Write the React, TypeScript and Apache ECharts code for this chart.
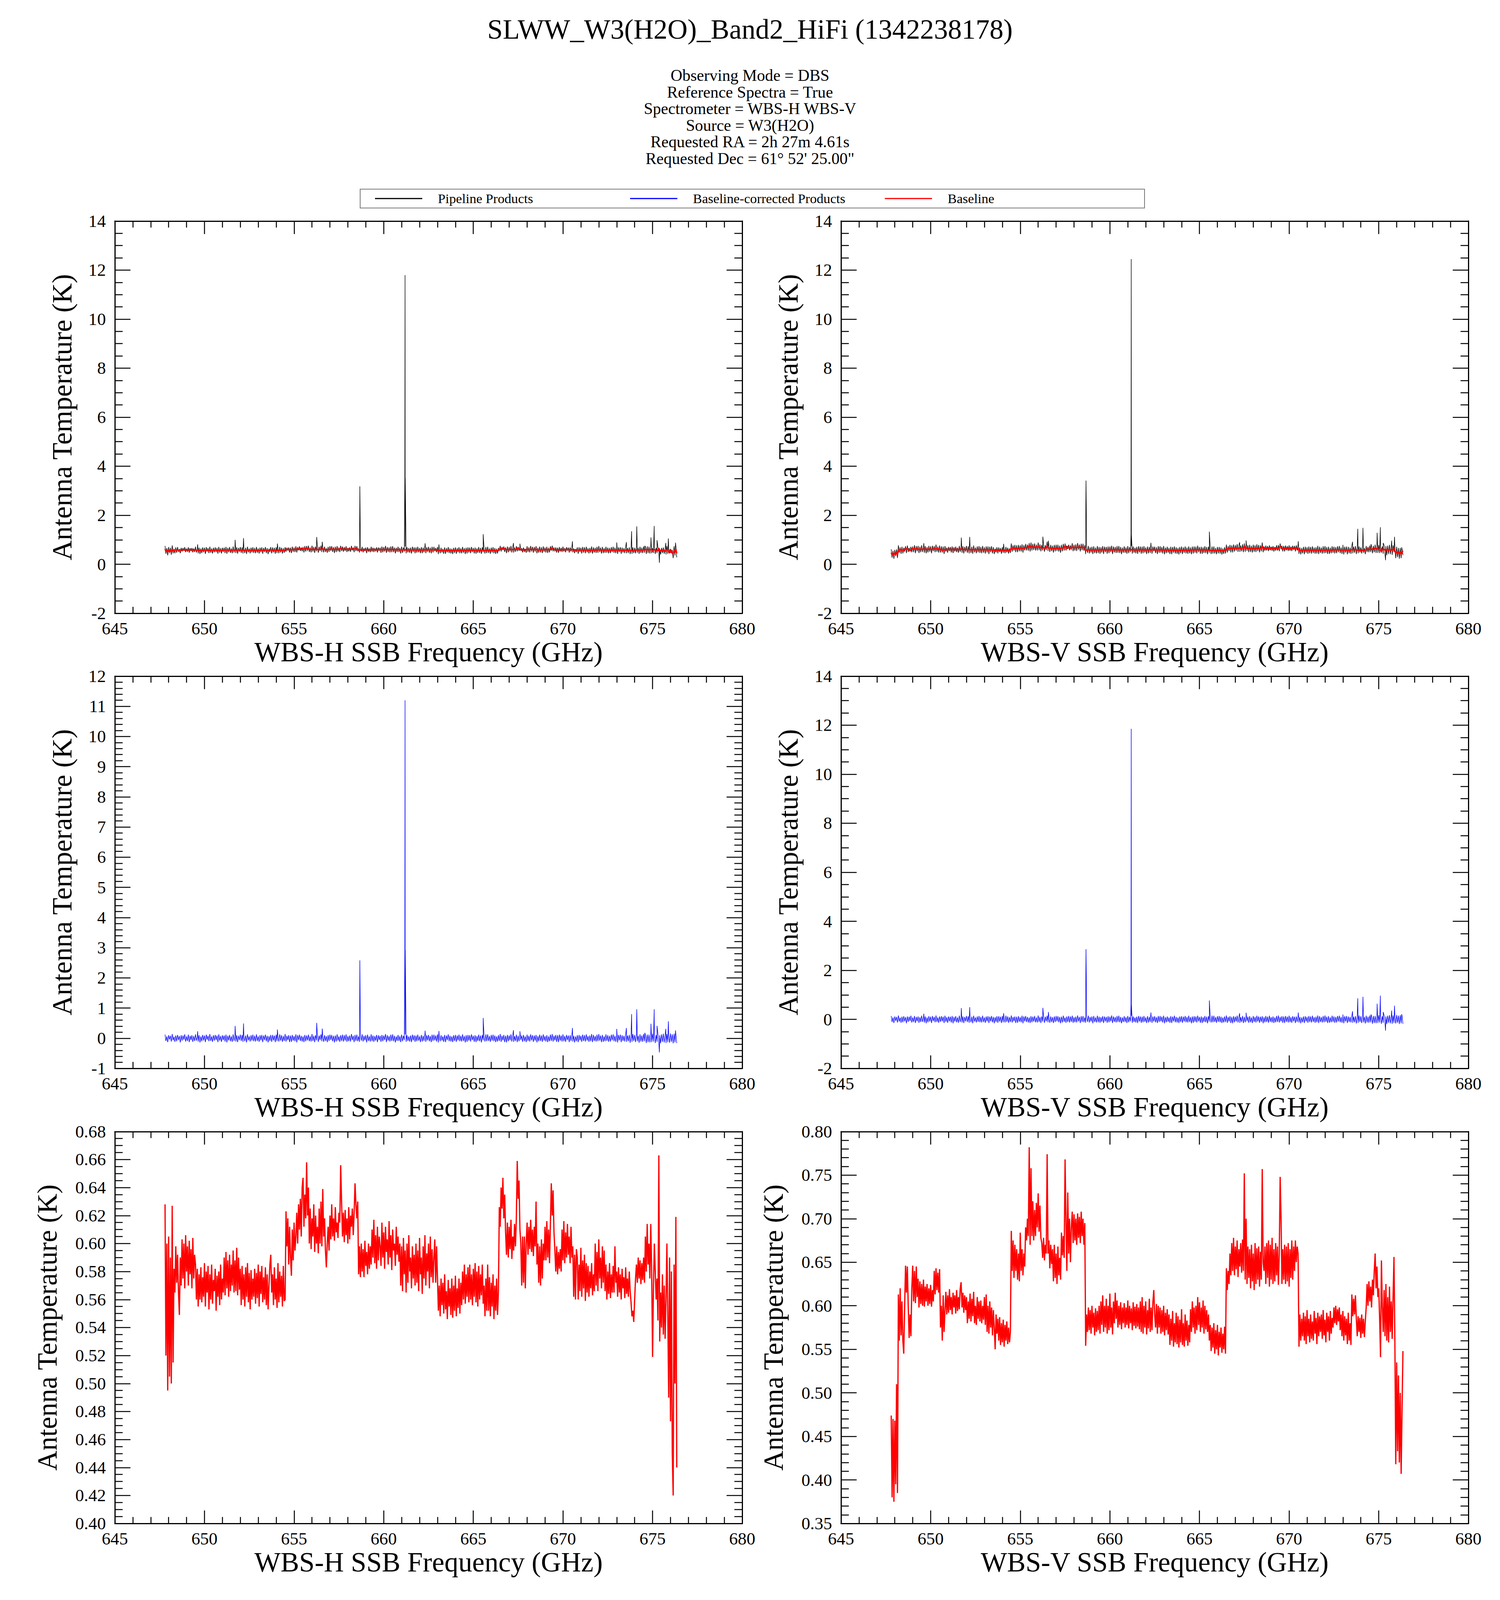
import React, { useEffect, useRef } from "react";
import * as echarts from "echarts";

const FONT = "Liberation Serif";

const TITLE = "SLWW_W3(H2O)_Band2_HiFi (1342238178)";
const SUBTITLE_LINES = [
  "Observing Mode = DBS",
  "Reference Spectra = True",
  "Spectrometer = WBS-H WBS-V",
  "Source = W3(H2O)",
  "Requested RA = 2h 27m 4.61s",
  "Requested Dec = 61\u00b0 52' 25.00\"",
];
const LEGEND_NAMES = ["Pipeline Products", "Baseline-corrected Products", "Baseline"];
const X_NAMES = ["WBS-H SSB Frequency (GHz)", "WBS-V SSB Frequency (GHz)"];
const Y_NAME = "Antenna Temperature (K)";

// spectral grid: first channel and channel step (GHz)
const FREQ_START = 647.8;
const FREQ_STEP = 0.05;

// Baseline, WBS-H, in mK, one value per 0.05 GHz
const H_BASELINE_MK = [
  628, 520, 600, 495, 605, 505, 590, 500, 627, 515, 582, 565, 598, 572, 592, 565, 549, 590, 570, 603,
  575, 600, 568, 606, 580, 598, 570, 602, 578, 596, 568, 604, 575, 592, 585, 560, 582, 555, 578, 560,
  583, 558, 576, 562, 586, 555, 580, 565, 584, 553, 578, 560, 585, 557, 574, 566, 582, 552, 577, 562,
  580, 556, 585, 560, 575, 565, 590, 563, 594, 568, 588, 562, 592, 566, 585, 570, 595, 565, 588, 566,
  597, 563, 590, 567, 582, 556, 584, 560, 578, 555, 583, 562, 586, 558, 579, 553, 581, 560, 575, 562,
  582, 557, 579, 561, 585, 555, 580, 564, 584, 558, 576, 560, 583, 556, 578, 553, 570, 585, 592, 565,
  578, 556, 583, 560, 575, 554, 586, 558, 580, 562, 577, 555, 584, 559, 560, 623, 598, 618, 585, 612,
  590, 577, 610, 588, 615, 595, 605, 622, 600, 628, 610, 632, 605, 640, 647, 612, 635, 618, 658, 620,
  640, 600, 625, 596, 618, 605, 628, 594, 620, 600, 612, 593, 625, 600, 630, 598, 639, 605, 618, 595,
  583, 600, 612, 595, 620, 603, 628, 605, 618, 602, 626, 608, 615, 604, 622, 615, 656, 630, 605, 622,
  601, 624, 606, 618, 600, 626, 603, 620, 612, 625, 606, 622, 643, 628, 618, 630, 578, 598, 576, 600,
  580, 596, 576, 602, 584, 594, 578, 600, 582, 598, 585, 610, 590, 617, 586, 606, 582, 612, 588, 605,
  598, 584, 615, 590, 608, 582, 612, 594, 603, 585, 616, 590, 606, 581, 610, 595, 600, 584, 612, 592,
  605, 587, 600, 570, 598, 566, 604, 578, 595, 565, 600, 572, 606, 580, 590, 568, 598, 575, 592, 570,
  600, 572, 595, 566, 604, 578, 590, 564, 598, 575, 606, 570, 593, 580, 600, 568, 605, 576, 596, 572,
  590, 603, 572, 598, 575, 552, 570, 548, 575, 556, 572, 550, 578, 553, 566, 546, 574, 555, 568, 549,
  575, 547, 570, 552, 577, 548, 568, 554, 575, 550, 572, 556, 580, 560, 585, 557, 578, 562, 583, 558,
  585, 560, 578, 556, 582, 562, 586, 558, 580, 555, 584, 560, 578, 563, 585, 557, 570, 548, 575, 552,
  585, 552, 576, 548, 572, 555, 578, 546, 570, 552, 575, 549, 566, 626, 612, 640, 625, 647, 618, 635,
  608, 592, 615, 590, 612, 596, 617, 589, 605, 595, 614, 598, 618, 659, 632, 645, 610, 600, 570, 605,
  572, 605, 568, 600, 615, 592, 612, 596, 617, 594, 610, 591, 612, 598, 630, 585, 600, 572, 598, 570,
  603, 575, 600, 588, 612, 588, 616, 590, 610, 586, 614, 643, 620, 638, 608, 595, 580, 598, 578, 594,
  582, 596, 580, 610, 588, 616, 586, 608, 590, 614, 592, 605, 586, 612, 590, 598, 562, 592, 560, 596,
  590, 560, 585, 566, 597, 562, 588, 568, 592, 559, 586, 565, 584, 562, 580, 568, 586, 563, 578, 566,
  600, 570, 594, 566, 603, 575, 590, 568, 598, 572, 595, 566, 585, 560, 580, 564, 586, 561, 578, 565,
  584, 565, 598, 572, 580, 562, 583, 565, 578, 560, 582, 568, 576, 561, 583, 564, 575, 562, 580, 566,
  558, 548, 552, 544, 560, 575, 585, 572, 590, 575, 588, 571, 586, 574, 590, 572, 605, 580, 614, 585,
  600, 575, 614, 580, 519, 570, 600, 580, 560, 575, 545, 663, 530, 565, 540, 578, 535, 570, 532, 560,
  600, 550, 490, 590, 473, 580, 450, 420, 585, 500, 619, 440,
];

// Baseline, WBS-V, in mK, one value per 0.05 GHz
const V_BASELINE_MK = [
  474, 380, 470, 375, 468, 395, 510, 385, 613, 560, 620, 566, 605, 560, 545, 600, 646, 615, 645, 600,
  563, 590, 565, 620, 646, 605, 640, 603, 645, 610, 631, 598, 628, 602, 625, 600, 630, 599, 622, 605,
  625, 600, 620, 602, 624, 599, 618, 605, 640, 613, 643, 618, 638, 615, 642, 575, 600, 560, 612, 570,
  595, 616, 590, 612, 592, 619, 595, 610, 590, 615, 598, 612, 591, 618, 594, 610, 596, 620, 627, 598,
  615, 592, 612, 595, 610, 580, 605, 585, 614, 582, 608, 588, 616, 580, 600, 578, 610, 585, 605, 582,
  606, 580, 600, 584, 610, 578, 613, 570, 600, 568, 605, 575, 598, 566, 595, 575, 550, 590, 568, 585,
  560, 587, 555, 580, 558, 584, 553, 578, 560, 582, 556, 575, 558, 570, 686, 640, 675, 632, 670, 640,
  665, 630, 660, 628, 684, 640, 665, 635, 660, 645, 690, 675, 700, 680, 782, 670, 758, 680, 720, 675,
  710, 680, 718, 690, 729, 685, 715, 678, 672, 655, 678, 652, 670, 660, 774, 660, 675, 643, 670, 648,
  665, 628, 670, 632, 660, 625, 668, 635, 655, 630, 684, 658, 680, 655, 768, 700, 640, 730, 660, 700,
  650, 690, 708, 672, 705, 675, 700, 670, 706, 678, 702, 672, 708, 680, 700, 670, 695, 554, 590, 570,
  598, 572, 595, 568, 600, 575, 592, 566, 597, 570, 594, 572, 600, 568, 605, 578, 612, 570, 600, 575,
  608, 568, 600, 572, 614, 575, 598, 567, 605, 580, 615, 585, 606, 575, 600, 578, 604, 573, 598, 580,
  603, 575, 598, 578, 606, 574, 600, 580, 597, 572, 604, 577, 599, 574, 602, 576, 598, 573, 605, 570,
  610, 568, 600, 575, 605, 567, 595, 574, 608, 570, 598, 572, 604, 618, 590, 575, 602, 568, 600, 575,
  598, 568, 595, 570, 600, 566, 592, 572, 596, 567, 590, 555, 585, 560, 594, 553, 580, 558, 592, 556,
  588, 552, 584, 558, 596, 555, 580, 553, 590, 560, 583, 554, 578, 558, 596, 570, 605, 575, 598, 568,
  600, 572, 610, 578, 604, 570, 598, 575, 606, 568, 600, 573, 595, 570, 590, 560, 578, 548, 575, 552,
  580, 545, 572, 550, 578, 543, 570, 552, 575, 546, 568, 550, 576, 545, 643, 618, 640, 625, 660, 635,
  672, 640, 678, 635, 668, 642, 675, 633, 665, 645, 672, 638, 676, 640, 752, 630, 700, 625, 668, 632,
  665, 620, 670, 628, 660, 618, 672, 625, 666, 630, 668, 622, 662, 630, 757, 650, 640, 668, 625, 672,
  632, 675, 622, 670, 630, 678, 625, 665, 628, 672, 635, 668, 624, 660, 748, 700, 625, 665, 630, 670,
  625, 668, 628, 672, 622, 665, 632, 675, 630, 668, 640, 675, 650, 668, 660, 553, 590, 560, 585, 565,
  592, 560, 588, 556, 595, 565, 585, 558, 590, 562, 582, 560, 594, 568, 586, 556, 592, 565, 588, 570,
  590, 562, 595, 566, 584, 558, 592, 570, 588, 560, 594, 568, 586, 575, 598, 580, 600, 578, 596, 582,
  598, 572, 590, 565, 594, 560, 588, 566, 585, 556, 592, 560, 580, 555, 613, 588, 608, 590, 612, 585,
  565, 588, 570, 586, 563, 590, 568, 585, 564, 582, 598, 625, 600, 628, 605, 622, 598, 630, 612, 640,
  660, 620, 645, 610, 620, 585, 541, 652, 600, 570, 618, 565, 625, 560, 610, 558, 622, 570, 605, 562,
  610, 656, 560, 418, 535, 433, 520, 420, 500, 407, 480, 548,
];

// Baseline-corrected noise, WBS-H, in 0.01 K, one value per 0.05 GHz (middle-left panel)
const H_RESIDUAL_CK = [
  12, -9, 6, -13, 10, -4, 8, -11, 14, -7, 5, -12, 9, -10, 11, -6, 7, -14, 10, -8,
  9, -5, 13, -11, 6, -9, 12, -13, 8, -6, 10, -12, 7, -9, 13, -8, 5, -11, 10, -14,
  6, -10, 11, -7, 9, -13, 12, -5, 8, -10, 14, -9, 6, -12, 10, -8, 11, -6, 9, -13,
  13, -8, 7, -12, 10, -6, 9, -11, 12, -14, 8, -7, 11, -10, 6, -12, 13, -9, 7, -11,
  10, -13, 8, -6, 12, -9, 11, -12, 7, -10, 9, -14, 13, -7, 6, -11, 10, -8, 12, -10,
  8, -11, 13, -9, 6, -12, 10, -7, 11, -13, 9, -6, 12, -10, 8, -14, 7, -9, 11, -12,
  11, -7, 9, -13, 12, -10, 6, -11, 13, -8, 10, -12, 7, -9, 14, -11, 8, -6, 10, -13,
  9, -12, 11, -8, 7, -10, 13, -14, 10, -6, 12, -9, 8, -11, 6, -13, 11, -10, 9, -7,
  12, -10, 6, -11, 14, -9, 8, -13, 10, -7, 11, -12, 9, -6, 13, -10, 7, -12, 10, -9,
  7, -13, 10, -9, 12, -6, 11, -10, 8, -14, 9, -11, 13, -8, 6, -12, 10, -9, 12, -11,
  10, -8, 13, -12, 7, -10, 9, -11, 14, -6, 8, -13, 11, -9, 12, -10, 6, -12, 9, -8,
  13, -11, 8, -7, 10, -14, 12, -9, 6, -11, 13, -10, 9, -12, 7, -8, 11, -13, 10, -6,
  8, -12, 11, -10, 9, -6, 14, -13, 10, -8, 7, -11, 12, -9, 13, -10, 8, -14, 6, -9,
  11, -9, 7, -13, 12, -10, 8, -6, 13, -12, 10, -9, 6, -11, 9, -13, 12, -7, 10, -12,
  9, -10, 12, -8, 6, -13, 11, -11, 8, -9, 14, -12, 10, -7, 11, -10, 7, -13, 12, -9,
  12, -7, 9, -11, 13, -14, 7, -10, 10, -8, 6, -12, 11, -13, 9, -6, 13, -10, 8, -11,
  6, -13, 10, -9, 11, -12, 9, -7, 12, -10, 8, -11, 13, -9, 7, -14, 10, -12, 11, -8,
  10, -11, 13, -6, 8, -12, 10, -13, 7, -9, 12, -10, 9, -14, 11, -7, 6, -11, 13, -10,
  13, -9, 7, -12, 11, -8, 12, -10, 9, -13, 6, -11, 10, -9, 14, -12, 8, -7, 11, -13,
  8, -14, 11, -10, 9, -7, 13, -11, 10, -12, 7, -9, 12, -13, 8, -10, 11, -6, 9, -12,
  11, -10, 6, -13, 12, -9, 8, -11, 13, -7, 10, -12, 9, -8, 11, -14, 7, -10, 12, -9,
  9, -12, 13, -8, 7, -11, 10, -13, 6, -10, 12, -9, 14, -11, 8, -7, 11, -12, 10, -13,
  12, -8, 9, -11, 13, -10, 7, -12, 11, -6, 9, -13, 10, -9, 12, -11, 8, -14, 6, -10,
  10, -13, 11, -7, 8, -12, 12, -9, 10, -11, 13, -8, 7, -12, 9, -10, 14, -13, 11, -9,
  7, -11, 12, -10, 14, -8, 9, -13, 11, -12, 6, -10, 13, -9, 10, -12, 8, -11, 12, -7,
  13, -10, 8, -12, 9, -14, 11, -7, 12, -13, 10, -9, 8, -11, 13, -12, 9, -10, 11, -15,
  10, -12, 14, -9, 11, -13, 12, -10, 8, -15, 13, -11, 9, -12, 14, -10, 11, -16, 12, -13,
  12, -14, 10, -13, 15, -11, 13, -16, 11, -12, 14, -13, 10, -17, 13, -12, 15, -14, 11, -16,
  14, -13, 12, -15, 16, -12, 13, -17, 15, -14, 12, -16,
];

// Baseline-corrected noise, WBS-V, in 0.01 K, one value per 0.05 GHz (middle-right panel)
const V_RESIDUAL_CK = [
  14, -11, 8, -15, 12, -6, 10, -13, 16, -9, 7, -14, 11, -12, 13, -8, 9, -16, 12, -10,
  11, -7, 15, -13, 8, -11, 14, -15, 10, -8, 12, -14, 9, -11, 15, -10, 7, -13, 12, -16,
  8, -12, 13, -9, 11, -15, 14, -7, 10, -12, 16, -11, 8, -14, 12, -10, 13, -8, 11, -15,
  15, -10, 9, -14, 12, -8, 11, -13, 14, -16, 10, -9, 13, -12, 8, -14, 15, -11, 9, -13,
  12, -15, 10, -8, 14, -11, 13, -14, 9, -12, 11, -16, 15, -9, 8, -13, 12, -10, 14, -12,
  10, -13, 15, -11, 8, -14, 12, -9, 13, -15, 11, -8, 14, -12, 10, -16, 9, -11, 13, -14,
  13, -9, 11, -15, 14, -12, 8, -13, 15, -10, 12, -14, 9, -11, 16, -13, 10, -8, 12, -15,
  11, -14, 13, -10, 9, -12, 15, -16, 12, -8, 14, -11, 10, -13, 8, -15, 13, -12, 11, -9,
  14, -12, 8, -13, 16, -11, 10, -15, 12, -9, 13, -14, 11, -8, 15, -12, 9, -14, 12, -11,
  9, -15, 12, -11, 14, -8, 13, -12, 10, -16, 11, -13, 15, -10, 8, -14, 12, -11, 14, -13,
  12, -10, 15, -14, 9, -12, 11, -13, 16, -8, 10, -15, 13, -11, 14, -12, 8, -14, 11, -10,
  15, -13, 10, -9, 12, -16, 14, -11, 8, -13, 15, -12, 11, -14, 9, -10, 13, -15, 12, -8,
  10, -14, 13, -12, 11, -8, 16, -15, 12, -10, 9, -13, 14, -11, 15, -12, 10, -16, 8, -11,
  13, -11, 9, -15, 14, -12, 10, -8, 15, -14, 12, -11, 8, -13, 11, -15, 14, -9, 12, -14,
  11, -12, 14, -10, 8, -15, 13, -13, 10, -11, 16, -14, 12, -9, 13, -12, 9, -15, 14, -11,
  14, -9, 11, -13, 15, -16, 9, -12, 12, -10, 8, -14, 13, -15, 11, -8, 15, -12, 10, -13,
  8, -15, 12, -11, 13, -14, 11, -9, 14, -12, 10, -13, 15, -11, 9, -16, 12, -14, 13, -10,
  12, -13, 15, -8, 10, -14, 12, -15, 9, -11, 14, -12, 11, -16, 13, -9, 8, -13, 15, -12,
  15, -11, 9, -14, 13, -10, 14, -12, 11, -15, 8, -13, 12, -11, 16, -14, 10, -9, 13, -15,
  10, -16, 13, -12, 11, -9, 15, -13, 12, -14, 9, -11, 14, -15, 10, -12, 13, -8, 11, -14,
  13, -12, 8, -15, 14, -11, 10, -13, 15, -9, 12, -14, 11, -10, 13, -16, 9, -12, 14, -11,
  11, -14, 15, -10, 9, -13, 12, -15, 8, -12, 14, -11, 16, -13, 10, -9, 13, -14, 12, -15,
  14, -10, 11, -13, 15, -12, 9, -14, 13, -8, 11, -15, 12, -11, 14, -13, 10, -16, 8, -12,
  12, -15, 13, -9, 10, -14, 14, -11, 12, -13, 15, -10, 9, -14, 11, -12, 16, -15, 13, -11,
  9, -13, 14, -12, 16, -10, 11, -15, 13, -14, 8, -12, 15, -11, 12, -14, 10, -13, 14, -9,
  15, -12, 10, -14, 11, -16, 13, -9, 14, -15, 12, -11, 10, -13, 15, -14, 11, -12, 13, -17,
  12, -14, 16, -11, 13, -15, 14, -12, 10, -17, 15, -13, 11, -14, 16, -12, 13, -18, 14, -15,
  14, -16, 12, -15, 17, -13, 15, -18, 13, -14, 16, -15, 12, -19, 15, -14, 17, -16, 13, -18,
  16, -15, 14, -17, 18, -14, 15, -19, 17, -16, 14, -18,
];

// Spectral lines: [frequency GHz, peak above baseline K, optional shoulder K]
const H_LINES = [
  [649.62, 0.23], [651.71, 0.41], [652.18, 0.49], [654.07, 0.29],
  [656.26, 0.51], [656.57, 0.32], [658.67, 2.58], [661.19, 11.2, 2.92],
  [662.31, 0.25], [663.08, 0.24], [665.55, 0.67], [667.24, 0.27],
  [667.6, 0.23], [670.53, 0.34], [673.0, 0.31], [673.54, 0.34],
  [673.83, 0.8], [674.12, 0.96], [674.57, 0.18], [674.91, 0.48],
  [675.09, 0.96], [675.25, 0.41], [675.38, -0.47], [675.74, 0.31],
  [675.88, 0.56], [676.28, 0.26],
];
const V_LINES = [
  [649.62, 0.23], [651.71, 0.46], [652.18, 0.5], [654.07, 0.25],
  [656.26, 0.47], [656.57, 0.3], [658.67, 2.86, 1.87], [661.19, 11.85, 0.6],
  [662.29, 0.28], [665.55, 0.77], [667.24, 0.25], [667.6, 0.27],
  [670.51, 0.28], [673.0, 0.2], [673.54, 0.33], [673.83, 0.86],
  [674.12, 0.92], [674.57, 0.2], [674.91, 0.64], [675.09, 0.97],
  [675.25, 0.3], [675.38, -0.46], [675.72, 0.36], [675.88, 0.56],
  [676.28, 0.21],
];

const round3 = (v: number) => Math.round(v * 1000) / 1000;

function baselineSeries(baseMK: number[]) {
  return baseMK.map((b, i) => [round3(FREQ_START + i * FREQ_STEP), b / 1000]);
}

function baseAt(baseMK: number[], f: number) {
  const j = Math.min(baseMK.length - 1, Math.max(0, Math.round((f - FREQ_START) / FREQ_STEP)));
  return baseMK[j] / 1000;
}

function spectrumSeries(baseMK: number[] | null, residCK: number[], lines: number[][]) {
  const pts: number[][] = residCK.map((r, k) => {
    const f = round3(FREQ_START + k * FREQ_STEP);
    const b = baseMK ? baseMK[Math.min(baseMK.length - 1, k)] / 1000 : 0;
    return [f, b + r / 100];
  });
  for (const ln of lines) {
    const f = ln[0];
    const b = baseMK ? baseAt(baseMK, f) : 0;
    if (ln.length > 2) {
      pts.push([f - 0.012, b + ln[2]], [f, b + ln[1]], [f + 0.012, b + ln[2]]);
    } else {
      pts.push([f, b + ln[1]]);
    }
  }
  pts.sort((a, b) => a[0] - b[0]);
  return pts;
}

// layout in reference pixels (3840 x 4915); scaled vertically to the real viewport
const REF_W = 3840;
const REF_H = 4915;
const GRIDS = [
  { left: 294, top: 679, width: 1606, height: 1205 },
  { left: 2153, top: 679, width: 1606, height: 1205 },
  { left: 294, top: 2077, width: 1606, height: 1205 },
  { left: 2153, top: 2077, width: 1606, height: 1205 },
  { left: 294, top: 3476, width: 1606, height: 1204 },
  { left: 2153, top: 3476, width: 1606, height: 1204 },
];

const Y_SCALES = [
  { min: -2, max: 14, interval: 2, minor: 4, dec: 0, gap: 100 },
  { min: -2, max: 14, interval: 2, minor: 4, dec: 0, gap: 100 },
  { min: -1, max: 12, interval: 1, minor: 5, dec: 0, gap: 100 },
  { min: -2, max: 14, interval: 2, minor: 4, dec: 0, gap: 100 },
  { min: 0.4, max: 0.68, interval: 0.02, minor: 4, dec: 2, gap: 138 },
  { min: 0.35, max: 0.8, interval: 0.05, minor: 5, dec: 2, gap: 138 },
];

function buildOption(W: number, H: number) {
  const sx = W / REF_W;
  const sy = H / REF_H;
  const fs = Math.sqrt(sx * sy);
  const X = (v: number) => v * sx;
  const Y = (v: number) => v * sy;

  const axisLine = { show: true, onZero: false, lineStyle: { color: "#000", width: 3 } };
  const xTick = { show: true, inside: true, length: Y(40), lineStyle: { color: "#000", width: 2.5 } };
  const yTick = { show: true, inside: true, length: X(40), lineStyle: { color: "#000", width: 2.5 } };

  const xAxis: any[] = [];
  const yAxis: any[] = [];
  GRIDS.forEach((_, g) => {
    const xc = {
      gridIndex: g, type: "value", min: 645, max: 680, interval: 5,
      splitLine: { show: false }, minorSplitLine: { show: false },
      axisLine, axisTick: xTick,
      minorTick: { show: true, splitNumber: 5, length: Y(20), lineStyle: { color: "#000", width: 2.5 } },
    };
    xAxis.push({
      ...xc, position: "bottom",
      name: X_NAMES[g % 2], nameLocation: "middle", nameGap: Y(76),
      nameTextStyle: { fontSize: 78 * fs, fontFamily: FONT, color: "#000" },
      axisLabel: { show: true, fontSize: 49 * fs, fontFamily: FONT, color: "#000", margin: Y(20), showMinLabel: true, showMaxLabel: true },
    });
    xAxis.push({ ...xc, position: "top", axisLabel: { show: false } });
    const s = Y_SCALES[g];
    const yc = {
      gridIndex: g, type: "value", min: s.min, max: s.max, interval: s.interval,
      splitLine: { show: false }, minorSplitLine: { show: false },
      axisLine, axisTick: yTick,
      minorTick: { show: true, splitNumber: s.minor, length: X(20), lineStyle: { color: "#000", width: 2.5 } },
    };
    yAxis.push({
      ...yc, position: "left",
      name: Y_NAME, nameLocation: "middle", nameGap: X(s.gap),
      nameTextStyle: { fontSize: 78 * fs, fontFamily: FONT, color: "#000" },
      axisLabel: {
        show: true, fontSize: 49 * fs, fontFamily: FONT, color: "#000", margin: X(23),
        showMinLabel: true, showMaxLabel: true,
        formatter: (v: number) => v.toFixed(s.dec),
      },
    });
    yAxis.push({ ...yc, position: "right", axisLabel: { show: false } });
  });

  const line = (g: number, name: string, data: number[][], color: string, width: number) => ({
    type: "line", name, xAxisIndex: 2 * g, yAxisIndex: 2 * g, data,
    showSymbol: false, symbol: "none", silent: true,
    lineStyle: { color, width }, itemStyle: { color },
  });

  const series = [
    line(0, LEGEND_NAMES[0], spectrumSeries(H_BASELINE_MK, H_RESIDUAL_CK, H_LINES), "#000000", 1.4),
    line(0, LEGEND_NAMES[2], baselineSeries(H_BASELINE_MK), "#ff0000", 3.5),
    line(1, LEGEND_NAMES[0], spectrumSeries(V_BASELINE_MK, V_RESIDUAL_CK, V_LINES), "#000000", 1.4),
    line(1, LEGEND_NAMES[2], baselineSeries(V_BASELINE_MK), "#ff0000", 3.5),
    line(2, LEGEND_NAMES[1], spectrumSeries(null, H_RESIDUAL_CK, H_LINES), "#0000ff", 1.4),
    line(3, LEGEND_NAMES[1], spectrumSeries(null, V_RESIDUAL_CK, V_LINES), "#0000ff", 1.4),
    line(4, LEGEND_NAMES[2], baselineSeries(H_BASELINE_MK), "#ff0000", 3.2),
    line(5, LEGEND_NAMES[2], baselineSeries(V_BASELINE_MK), "#ff0000", 3.2),
  ];

  const txt = (text: string, x: number, y: number, size: number, align: string) => ({
    type: "text", x: X(x), y: Y(y), silent: true,
    style: {
      text, fontSize: size, fontFamily: FONT, fill: "#000",
      align, verticalAlign: "middle", textAlign: align, textVerticalAlign: "middle",
    },
  });

  const graphic: any[] = [txt(TITLE, 1920, 90, 78 * fs, "center")];
  SUBTITLE_LINES.forEach((t, i) => graphic.push(txt(t, 1920, 232 + i * 51, 50 * sy, "center")));
  graphic.push({
    type: "rect", silent: true,
    shape: { x: X(922), y: Y(581), width: X(2008), height: Y(58) },
    style: { fill: "#fff", stroke: "#777", lineWidth: 2 },
  });
  const legendItems = [
    { x1: 960, tx: 1121, color: "#000000" },
    { x1: 1613, tx: 1774, color: "#0000ff" },
    { x1: 2265, tx: 2426, color: "#ff0000" },
  ];
  legendItems.forEach((it, i) => {
    graphic.push({
      type: "line", silent: true,
      shape: { x1: X(it.x1), y1: Y(610), x2: X(it.x1 + 121), y2: Y(610) },
      style: { stroke: it.color, lineWidth: 3 },
    });
    graphic.push(txt(LEGEND_NAMES[i], it.tx, 610, 38 * fs, "left"));
  });

  return {
    animation: false,
    backgroundColor: "#ffffff",
    textStyle: { fontFamily: FONT, color: "#000" },
    grid: GRIDS.map((g) => ({
      left: X(g.left), top: Y(g.top), width: X(g.width), height: Y(g.height),
      containLabel: false, show: false,
    })),
    xAxis, yAxis, series, graphic,
  };
}

export default function App() {
  const ref = useRef<HTMLDivElement>(null);
  useEffect(() => {
    document.body.style.margin = "0";
    const W = Math.min(REF_W, window.innerWidth || REF_W);
    const H = Math.min(REF_H, window.innerHeight || REF_H);
    const el = ref.current!;
    el.style.width = W + "px";
    el.style.height = H + "px";
    const chart = echarts.init(el, null, { renderer: "svg", width: W, height: H });
    chart.setOption(buildOption(W, H) as any);
    return () => chart.dispose();
  }, []);
  return <div ref={ref} style={{ width: REF_W, height: REF_H, background: "#fff", overflow: "hidden" }} />;
}
